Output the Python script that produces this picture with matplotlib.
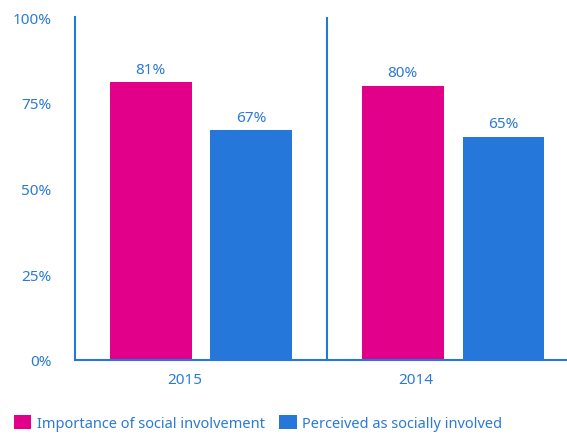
import matplotlib.pyplot as plt
import numpy as np

plt.rcParams["font.family"] = ["Noto Sans", "DejaVu Sans"]

years = ["2015", "2014"]
importance = [81, 80]
perceived = [67, 65]
series_names = ["Importance of social involvement", "Perceived as socially involved"]
y_ticks = [0, 25, 50, 75, 100]

PINK = "#E2008A"
BLUE = "#2577D9"
TEXT = "#2B7AD6"


def main():
    fig = plt.figure(figsize=(5.67, 4.35), dpi=100)
    ax = fig.add_axes([75 / 567, 74 / 435, 492 / 567, 343 / 435])

    x = np.arange(len(years))
    width = 0.325
    b1 = ax.bar(x - 0.2, importance, width, color=PINK, label=series_names[0])
    b2 = ax.bar(x + 0.2, perceived, width, color=BLUE, label=series_names[1])

    for bars in (b1, b2):
        for rect in bars:
            ax.annotate(f"{rect.get_height():.0f}%",
                        (rect.get_x() + rect.get_width() / 2, rect.get_height()),
                        xytext=(0, 4), textcoords="offset points",
                        ha="center", va="bottom", color=TEXT, fontsize=11)

    # divider between the two years
    ax.axvline(0.5, color=BLUE, linewidth=1.5)

    ax.set_xlim(-0.5, 1.452)
    ax.set_ylim(0, 100)
    ax.set_yticks(y_ticks)
    ax.set_yticklabels([f"{v}%" for v in y_ticks])
    ax.set_xticks(x + np.array([-0.063, -0.147]))
    ax.set_xticklabels(years)
    ax.tick_params(axis="both", length=0, colors=TEXT, labelsize=11)
    ax.tick_params(axis="y", pad=17)
    ax.tick_params(axis="x", pad=9)

    for side in ("top", "right"):
        ax.spines[side].set_visible(False)
    for side in ("left", "bottom"):
        ax.spines[side].set_color(BLUE)
        ax.spines[side].set_linewidth(1.5)

    fig.legend(loc="lower left", bbox_to_anchor=(14 / 567, 3 / 435), ncol=2,
               frameon=False, fontsize=10.5, borderpad=0, borderaxespad=0,
               handlelength=1.17, handleheight=1.17,
               handletextpad=0.4, columnspacing=1.0, labelcolor=TEXT)

    fig.savefig("out.png", dpi=100)


if __name__ == "__main__":
    main()
